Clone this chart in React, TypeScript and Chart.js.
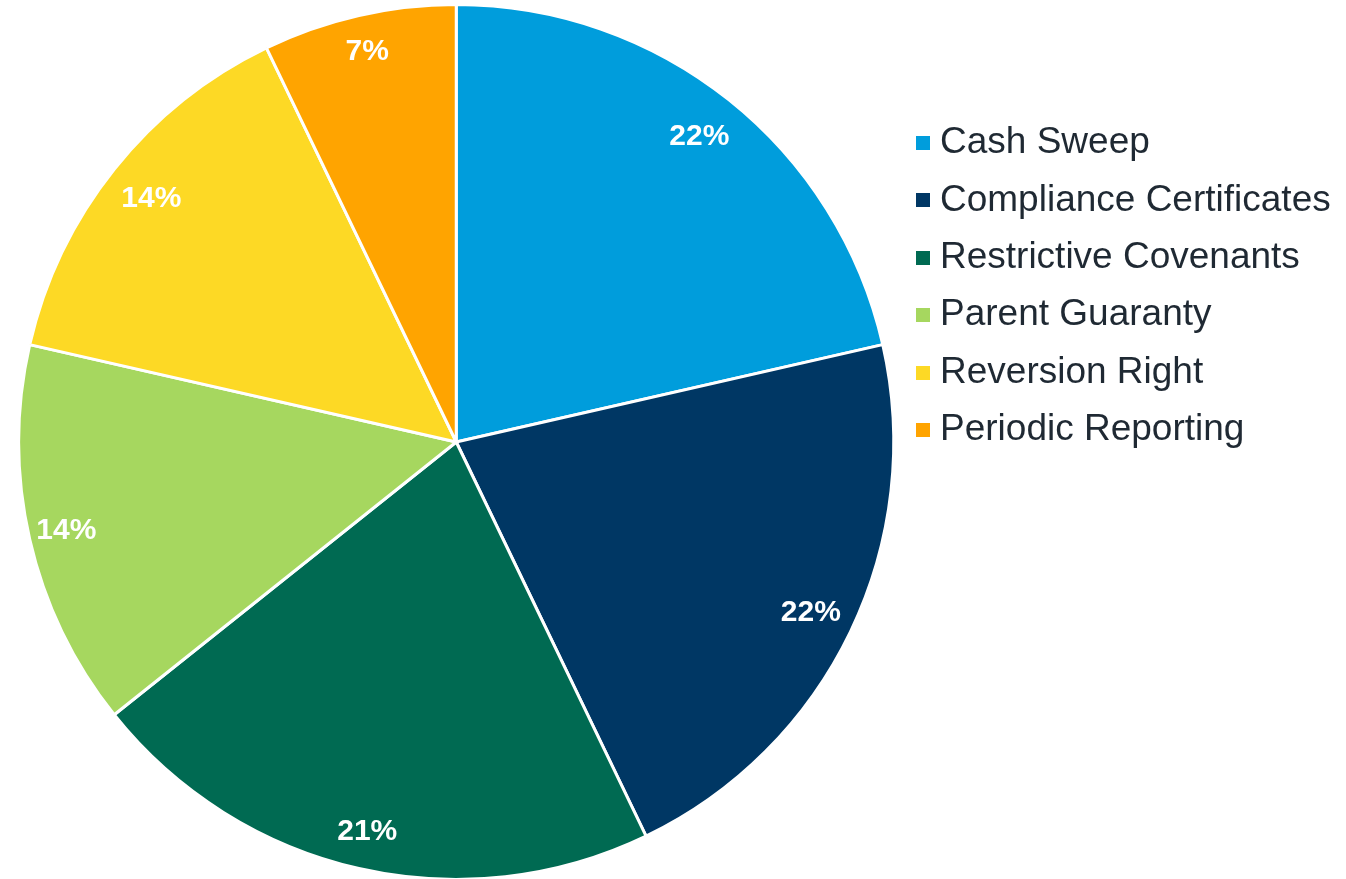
import React, { useEffect, useRef } from "react";
import { Chart, registerables } from "chart.js";

Chart.register(...registerables);

const categories = [
  "Cash Sweep",
  "Compliance Certificates",
  "Restrictive Covenants",
  "Parent Guaranty",
  "Reversion Right",
  "Periodic Reporting",
];
const counts = [3, 3, 3, 2, 2, 1];
const pctLabels = ["22%", "22%", "21%", "14%", "14%", "7%"];
const colors = ["#009DDC", "#003764", "#006A52", "#A6D75F", "#FDD925", "#FFA400"];

const FONT = "'Liberation Sans', Arial, Helvetica, sans-serif";
const LEGEND_WIDTH = 433.5;

function makeSwatch(color: string) {
  const c = document.createElement("canvas");
  c.width = 18;
  c.height = 14;
  const g = c.getContext("2d")!;
  g.fillStyle = color;
  g.fillRect(4, 0, 14, 14);
  return c;
}

const legendTweaks = {
  id: "legendTweaks",
  beforeLayout(chart: any) {
    const lg = chart.legend;
    if (lg && !lg.__patched) {
      const orig = lg.fit;
      lg.fit = function () {
        orig.call(this);
        this.width = LEGEND_WIDTH;
      };
      lg.__patched = true;
    }
  },
};

const pieLabels = {
  id: "pieLabels",
  afterDatasetsDraw(chart: any) {
    const ctx = chart.ctx;
    const meta = chart.getDatasetMeta(0);
    meta.data.forEach((arc: any, i: number) => {
      const { x, y, startAngle, endAngle, outerRadius } = arc.getProps(
        ["x", "y", "startAngle", "endAngle", "outerRadius"],
        true
      );
      const mid = (startAngle + endAngle) / 2;
      const c = Math.cos(mid);
      const s = Math.sin(mid);
      const dist = outerRadius - 29.5 - 37 * Math.abs(s * c);
      ctx.save();
      ctx.font = `bold 30px ${FONT}`;
      ctx.fillStyle = "#FFFFFF";
      ctx.textAlign = "center";
      ctx.textBaseline = "middle";
      ctx.fillText(pctLabels[i], x + c * dist, y + s * dist);
      ctx.restore();
    });
  },
};

export default function App() {
  const ref = useRef<HTMLCanvasElement | null>(null);

  useEffect(() => {
    if (!ref.current) return;
    const swatches = colors.map(makeSwatch);
    const chart = new Chart(ref.current, {
      type: "pie",
      data: {
        labels: categories,
        datasets: [
          {
            data: counts,
            backgroundColor: colors,
            borderColor: "#FFFFFF",
            borderWidth: 3,
            radius: 437.5,
            clip: false,
          } as any,
        ],
      },
      options: {
        animation: false,
        responsive: false,
        layout: { padding: { top: 5, left: 0, right: 0, bottom: 0 } },
        plugins: {
          tooltip: { enabled: false },
          legend: {
            position: "right",
            align: "start",
            title: {
              display: true,
              text: "",
              padding: { top: 110.5, bottom: 0 },
              font: { size: 1, lineHeight: 1 },
            },
            labels: {
              usePointStyle: true,
              boxWidth: 1,
              boxHeight: 14,
              padding: 8,
              color: "#1F2933",
              font: { family: FONT, size: 37, lineHeight: "49.4px" as any },
              generateLabels: (chart: any) => {
                const base = (Chart as any).overrides.doughnut.plugins.legend.labels.generateLabels(chart);
                return base.map((it: any, i: number) => ({
                  ...it,
                  text: [it.text],
                  lineWidth: 0,
                  pointStyle: swatches[i],
                }));
              },
            },
          },
        },
      } as any,
      plugins: [legendTweaks, pieLabels],
    });
    return () => chart.destroy();
  }, []);

  return (
    <div style={{ position: "fixed", left: 0, top: 0, width: 1346, height: 879, background: "#FFFFFF" }}>
      <canvas ref={ref} width={1346} height={879} style={{ display: "block" }} />
    </div>
  );
}
